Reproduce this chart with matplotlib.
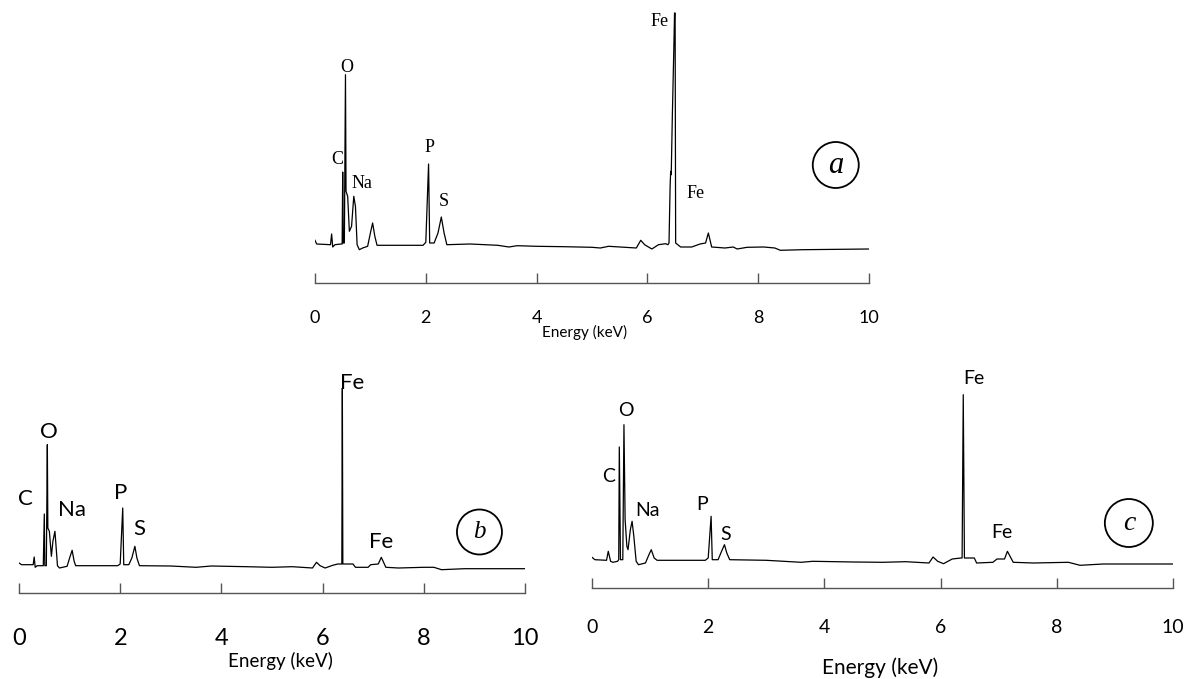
import matplotlib
matplotlib.use("Agg")
import matplotlib.pyplot as plt
from matplotlib.patches import Circle
from matplotlib.transforms import ScaledTranslation

# ---------------- data (energy keV, counts a.u.) ----------------
energy_a = [0.00, 0.03, 0.28, 0.30, 0.32, 0.36, 0.47, 0.49, 0.50, 0.51, 0.53, 0.55, 0.56, 0.59,
            0.62, 0.66, 0.70, 0.73, 0.76, 0.80, 0.86, 0.95, 1.00, 1.04, 1.08, 1.12, 1.50, 1.95,
            2.00, 2.05, 2.07, 2.15, 2.22, 2.28, 2.33, 2.38, 2.80, 3.30, 3.50, 3.65, 4.00, 4.50,
            5.00, 5.15, 5.30, 5.80, 5.88, 5.95, 6.08, 6.20, 6.33, 6.37, 6.39, 6.41, 6.42, 6.43,
            6.45, 6.48, 6.49, 6.50, 6.51, 6.60, 6.80, 6.95, 7.05, 7.10, 7.16, 7.40, 7.55, 7.62,
            7.80, 8.10, 8.30, 8.40, 8.80, 10.00]
counts_a = [42.7, 39.0, 38.3, 49.0, 36.0, 38.3, 39.0, 39.0, 111.0, 40.0, 40.0, 208.3, 91.7, 86.7,
            51.7, 56.7, 86.7, 76.7, 38.3, 33.3, 35.0, 36.7, 50.0, 60.0, 46.7, 37.7, 37.7, 37.7,
            40.7, 119.0, 40.0, 40.0, 50.0, 66.0, 50.0, 38.3, 39.0, 37.7, 36.0, 37.3, 36.7, 36.3,
            35.7, 35.0, 36.7, 35.0, 42.7, 38.3, 34.0, 38.3, 39.3, 38.3, 40.0, 96.7, 111.7, 108.3,
            166.7, 241.7, 270.0, 270.0, 40.0, 36.0, 36.0, 39.0, 40.0, 50.0, 36.0, 35.0, 36.0, 34.0,
            35.7, 36.0, 35.0, 32.7, 33.3, 34.0]

energy_b = [0.00, 0.05, 0.28, 0.30, 0.32, 0.36, 0.48, 0.50, 0.51, 0.54, 0.56, 0.57, 0.60, 0.64,
            0.67, 0.71, 0.73, 0.76, 0.80, 0.95, 1.00, 1.05, 1.09, 1.12, 1.95, 2.00, 2.05, 2.07,
            2.17, 2.23, 2.29, 2.33, 2.38, 3.00, 3.50, 3.80, 4.50, 5.00, 5.40, 5.80, 5.88, 5.95,
            6.05, 6.20, 6.30, 6.38, 6.39, 6.40, 6.60, 6.65, 6.90, 6.95, 7.10, 7.16, 7.25, 7.50,
            8.00, 8.20, 8.35, 8.80, 10.00]
counts_b = [30.0, 28.3, 28.3, 36.0, 25.7, 27.3, 27.3, 79.0, 27.3, 27.3, 148.3, 65.0, 61.7, 36.7,
            51.7, 61.7, 48.3, 27.3, 25.0, 26.7, 35.0, 42.7, 31.7, 27.3, 27.3, 29.0, 85.0, 28.3,
            28.3, 35.0, 46.7, 35.0, 27.3, 27.0, 25.7, 27.0, 26.3, 25.7, 26.3, 25.0, 30.7, 27.3,
            25.0, 27.7, 29.0, 29.0, 205.0, 29.0, 29.0, 25.7, 25.7, 28.3, 29.0, 35.7, 25.7, 25.0,
            25.7, 25.7, 23.3, 24.3, 24.3]

energy_c = [0.00, 0.05, 0.25, 0.28, 0.32, 0.36, 0.44, 0.46, 0.47, 0.49, 0.53, 0.55, 0.57, 0.60,
            0.62, 0.66, 0.69, 0.72, 0.76, 0.80, 0.92, 0.98, 1.02, 1.07, 1.12, 1.95, 2.00, 2.05,
            2.07, 2.17, 2.23, 2.28, 2.32, 2.37, 3.00, 3.60, 3.80, 4.50, 5.00, 5.40, 5.80, 5.87,
            5.95, 6.05, 6.20, 6.35, 6.37, 6.39, 6.41, 6.58, 6.62, 6.90, 6.97, 7.10, 7.15, 7.25,
            7.60, 8.20, 8.40, 8.80, 10.00]
counts_c = [30.7, 28.3, 27.7, 36.7, 26.7, 25.7, 26.7, 28.3, 141.0, 28.3, 28.3, 163.3, 68.3, 41.7,
            38.3, 58.3, 66.7, 51.7, 26.7, 23.3, 25.0, 33.3, 38.3, 30.0, 27.7, 27.7, 30.0, 71.7,
            28.3, 28.3, 36.7, 43.3, 35.0, 28.3, 27.7, 25.7, 26.7, 26.0, 25.7, 26.3, 25.0, 31.0,
            26.7, 24.3, 29.0, 30.0, 30.0, 193.3, 30.0, 30.0, 25.0, 25.7, 29.0, 29.0, 36.7, 25.7,
            25.0, 25.7, 22.7, 24.0, 24.0]

tick_values = [0, 2, 4, 6, 8, 10]
tick_labels = ["0", "2", "4", "6", "8", "10"]
xlabel_text = "Energy (keV)"

# element labels: (text, energy, counts)
labels_a = [("Fe", 6.22, 262), ("O", 0.57, 216), ("C", 0.40, 124), ("Na", 0.85, 100),
            ("P", 2.07, 136), ("S", 2.32, 82), ("Fe", 6.87, 90)]
labels_b = [("Fe", 6.58, 210), ("O", 0.59, 161), ("C", 0.12, 94), ("Na", 1.05, 83),
            ("P", 2.00, 100), ("S", 2.38, 64), ("Fe", 7.16, 51)]
labels_c = [("Fe", 6.58, 209), ("O", 0.59, 177), ("C", 0.29, 112), ("Na", 0.95, 77),
            ("P", 1.90, 83), ("S", 2.30, 53), ("Fe", 7.06, 56)]

W, H = 1191, 679
fig = plt.figure(figsize=(W / 100, H / 100), dpi=100)


def make_axes(x0, x10, y_axis, ytop_px):
    ax = fig.add_axes([x0 / W, 1 - y_axis / H, (x10 - x0) / W, ytop_px / H])
    ax.set_xlim(0, 10)
    ax.set_ylim(0, ytop_px)
    for s in ("left", "right", "top"):
        ax.spines[s].set_visible(False)
    ax.spines["bottom"].set_color("#555555")
    ax.spines["bottom"].set_linewidth(1.0)
    ax.set_yticks([])
    ax.patch.set_alpha(0)
    return ax


def style_ticks(ax, size, pad):
    ax.set_xticks(tick_values)
    ax.set_xticklabels(tick_labels, fontfamily="Lato", fontsize=size)
    ax.tick_params(axis="x", direction="in", length=7, width=1.0, color="#555555", pad=pad)


def circle_label(ax, e, c, letter, radius_px, size):
    tr = fig.dpi_scale_trans + ScaledTranslation(e, c, ax.transData)
    ax.add_artist(Circle((0, 0), radius_px / 100, transform=tr, fill=False,
                         ec="black", lw=1.3, clip_on=False))
    ax.text(e, c, letter, ha="center", va="center", fontsize=size,
            fontfamily="Liberation Serif", style="italic")


# ---------------- panel a ----------------
ax_a = make_axes(315, 869, 283, 280)
ax_a.plot(energy_a, counts_a, color="black", lw=0.9)
style_ticks(ax_a, 13, 19.5)
for t, e, c in labels_a:
    ax_a.text(e, c, t, ha="center", va="center", fontsize=13, fontfamily="Liberation Serif")
circle_label(ax_a, 9.4, 118, "a", 23, 22)
fig.text(585 / W, 1 - 332 / H, xlabel_text, ha="center", va="center",
         fontsize=11, fontfamily="Lato")

# ---------------- panel b ----------------
ax_b = make_axes(19, 525, 593, 250)
ax_b.plot(energy_b, counts_b, color="black", lw=0.9)
style_ticks(ax_b, 17, 25)
for t, e, c in labels_b:
    ax_b.text(e, c, t, ha="center", va="center", fontsize=16, fontfamily="Lato")
circle_label(ax_b, 9.1, 61, "b", 22.5, 18)
fig.text(280 / W, 1 - 661 / H, xlabel_text, ha="center", va="center",
         fontsize=13.5, fontfamily="Lato")

# ---------------- panel c ----------------
ax_c = make_axes(592, 1173, 588, 230)
ax_c.plot(energy_c, counts_c, color="black", lw=0.9)
style_ticks(ax_c, 14, 22)
for t, e, c in labels_c:
    ax_c.text(e, c, t, ha="center", va="center", fontsize=14, fontfamily="Lato")
circle_label(ax_c, 9.24, 65, "c", 24, 20)
fig.text(880 / W, 1 - 668 / H, xlabel_text, ha="center", va="center",
         fontsize=15, fontfamily="Lato")

fig.savefig("out.png", dpi=100)
